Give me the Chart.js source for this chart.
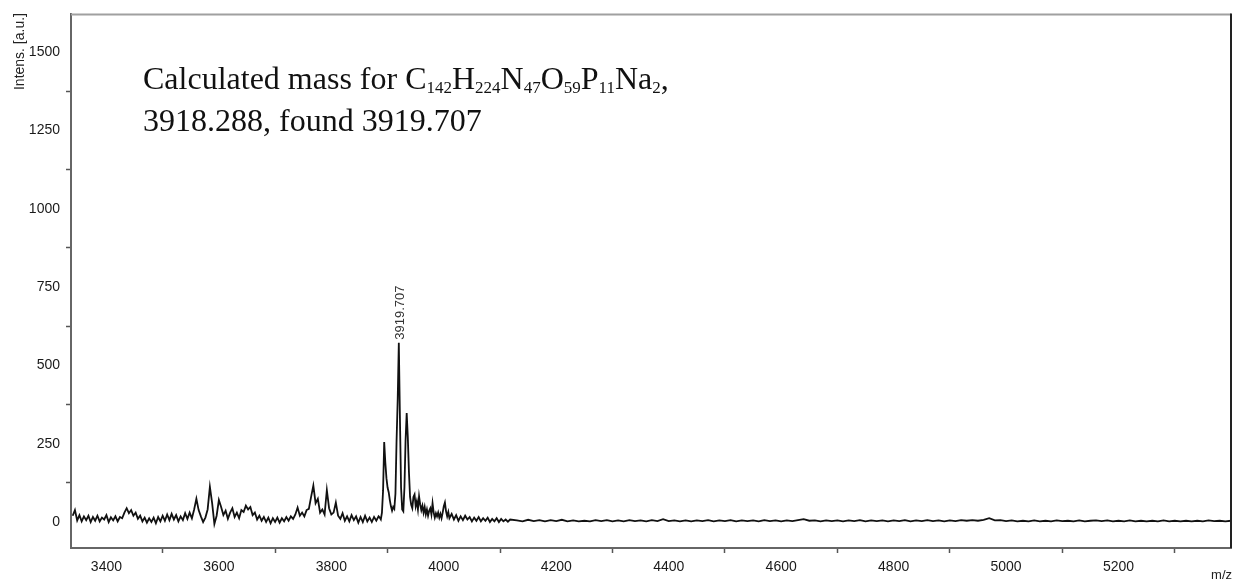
<!DOCTYPE html>
<html>
<head>
<meta charset="utf-8">
<script src="https://cdn.jsdelivr.net/npm/chart.js@4/dist/chart.umd.min.js"></script>
<style>
  html, body { margin: 0; padding: 0; background: #fff; }
  #wrap { width: 1238px; height: 583px; position: relative; }
</style>
</head>
<body>
<div id="wrap"><canvas id="spec"></canvas></div>
<script>
// MALDI spectrum, intensities (a.u.)
// each stretch is sampled on a regular m/z grid: start, step
const lowStart = 3340, lowStep = 4;
const lowIntens = [
  20, 38, 5, 22, 2, 18, 6, 20, 0, 16, 4, 20, 2, 14, 8, 22, 0, 15, 5, 18,
  2, 16, 12, 30, 44, 28, 38, 20, 30, 10, 20, 2, 14, -2, 12, 0, 14, -4, 16, 2,
  20, 4, 24, 6, 26, 8, 22, 2, 18, 6, 28, 10, 30, 12, 40, 74, 38, 18, 0, 14,
  40, 112, 60, -6, 20, 70, 48, 22, 36, 10, 30, 44, 16, 30, 12, 38, 32, 52, 40, 48,
  22, 30, 8, 20, 4, 16, 0, 14, -4, 12, 0, 14, -2, 12, 2, 16, 4, 18, 10, 24,
  46, 20, 30, 18, 38, 42, 80, 116, 60, 74, 30, 40, 24, 102, 44, 24, 30, 62, 20, 10,
  28, 4, 18, 2, 22, 6, 18, -2, 16, 0, 20, 2, 14, 0, 16, 4, 18
];

const peakStart = 3886, peakStep = 2;
const peakIntens = [
  14, 8, 30, 100, 255, 190, 140, 110, 95, 70, 50, 36, 48, 42, 90, 260, 390, 572, 330, 110,
  40, 34, 110, 260, 348, 270, 160, 80, 55, 44, 80, 88, 50, 66, 40, 82, 56, 38, 52, 30,
  48, 24, 40, 20, 36, 44, 24, 60, 30, 14, 28, 18, 30, 14, 26, 12, 30, 50, 62, 34,
  18, 32, 12
];

const tailStart = 4014, tailStep = 4;
const tailIntens = [
  26, 8, 22, 4, 18, 6, 20, 8, 16, 2, 14, 4, 16, 2, 12, 4, 14, 0, 10, 2,
  12, 0, 10, 2, 8, 1, 8
];

const flatStart = 4130, flatStep = 10;
const flatIntens = [
  5, 2, 7, 3, 6, 2, 6, 3, 7, 2, 5, 2, 4, 2, 6, 3, 6, 2, 5, 2,
  6, 3, 5, 2, 6, 3, 9, 3, 5, 2, 5, 2, 5, 3, 6, 2, 5, 3, 6, 2,
  5, 3, 5, 2, 6, 3, 5, 2, 5, 3, 6, 9, 4, 5, 2, 5, 3, 5, 2, 5,
  3, 6, 2, 5, 3, 5, 2, 5, 3, 6, 2, 5, 3, 6, 3, 5, 2, 5, 3, 6,
  4, 6, 4, 7, 12, 5, 6, 3, 5, 2, 4, 2, 5, 2, 4, 2, 5, 3, 4, 2,
  5, 2, 4, 5, 3, 5, 2, 4, 2, 5, 2, 4, 2, 4, 2, 5, 2, 4, 2, 4,
  2, 4, 2, 5, 3, 4, 2, 4
];

const xTickValues = [3400, 3500, 3600, 3700, 3800, 3900, 4000, 4100, 4200, 4300,
  4400, 4500, 4600, 4700, 4800, 4900, 5000, 5100, 5200, 5300];
const yTickValues = [0, 125, 250, 375, 500, 625, 750, 875, 1000, 1125, 1250, 1375, 1500];

const peakMz = 3919.707;
const peakText = '3919.707';

function stretch(start, step, vals) {
  return vals.map((v, i) => ({ x: start + i * step, y: v }));
}

const points = [].concat(
  stretch(lowStart, lowStep, lowIntens),
  stretch(peakStart, peakStep, peakIntens),
  stretch(tailStart, tailStep, tailIntens),
  stretch(flatStart, flatStep, flatIntens)
);

const tickFont = { family: '"Liberation Sans", Arial, sans-serif', size: 14 };

// frame, titles, peak label and the formula note
const notes = {
  id: 'notes',
  afterDraw(chart) {
    const ctx = chart.ctx;
    const { left, right, top, bottom } = chart.chartArea;
    ctx.save();

    ctx.lineWidth = 2;
    ctx.strokeStyle = '#a0a0a0';
    ctx.beginPath(); ctx.moveTo(left, top); ctx.lineTo(right, top); ctx.stroke();
    ctx.strokeStyle = '#222';
    ctx.beginPath(); ctx.moveTo(right, top - 1); ctx.lineTo(right, bottom); ctx.stroke();

    // axis titles
    ctx.fillStyle = '#222';
    ctx.font = '13px "Liberation Sans", Arial, sans-serif';
    ctx.textAlign = 'right';
    ctx.textBaseline = 'alphabetic';
    ctx.fillText('m/z', 1232, 579);
    ctx.save();
    ctx.translate(24, 13);
    ctx.rotate(-Math.PI / 2);
    ctx.textAlign = 'right';
    ctx.font = '14px "Liberation Sans", Arial, sans-serif';
    ctx.fillText('Intens. [a.u.]', 0, 0);
    ctx.restore();

    // peak label, standing on the top of the main peak
    const top1 = Math.max(...peakIntens);
    const px = chart.scales.x.getPixelForValue(peakMz);
    const py = chart.scales.y.getPixelForValue(top1);
    ctx.save();
    ctx.translate(px + 5, py - 3);
    ctx.rotate(-Math.PI / 2);
    ctx.textAlign = 'left';
    ctx.font = '13px "Liberation Sans", Arial, sans-serif';
    ctx.fillStyle = '#333';
    ctx.fillText(peakText, 0, 0);
    ctx.restore();

    // formula note
    const big = '32px "Liberation Serif", "Times New Roman", serif';
    const small = '17px "Liberation Serif", "Times New Roman", serif';
    const parts = [
      ['Calculated mass for C', 0], ['142', 1], ['H', 0], ['224', 1], ['N', 0], ['47', 1],
      ['O', 0], ['59', 1], ['P', 0], ['11', 1], ['Na', 0], ['2', 1], [',', 0]
    ];
    ctx.fillStyle = '#111';
    ctx.textAlign = 'left';
    let x = 143;
    parts.forEach(([t, sub]) => {
      ctx.font = sub ? small : big;
      ctx.fillText(t, x, sub ? 93 : 89);
      x += ctx.measureText(t).width;
    });
    ctx.font = big;
    ctx.fillText('3918.288, found 3919.707', 143, 131);

    ctx.restore();
  }
};

new Chart(document.getElementById('spec'), {
  type: 'line',
  data: {
    datasets: [{
      data: points,
      borderColor: '#111',
      borderWidth: 1.8,
      pointRadius: 0,
      tension: 0,
      fill: false
    }]
  },
  options: {
    responsive: true,
    maintainAspectRatio: false,
    animation: false,
    events: [],
    layout: { padding: { top: 9, right: 7, left: 0, bottom: 0 } },
    plugins: { legend: { display: false }, tooltip: { enabled: false } },
    scales: {
      x: {
        type: 'linear',
        min: 3337,
        max: 5400,
        afterFit: s => { s.height = 35; },
        afterBuildTicks: s => { s.ticks = xTickValues.map(v => ({ value: v })); },
        border: { display: true, color: '#666', width: 2 },
        grid: {
          drawOnChartArea: false,
          drawTicks: true,
          tickLength: 5,
          tickColor: c => (c.tick && c.tick.value % 200 === 0) ? 'rgba(0,0,0,0)' : '#555',
          tickWidth: 1.5
        },
        ticks: {
          font: tickFont,
          color: '#1a1a1a',
          padding: 6,
          autoSkip: false,
          maxRotation: 0,
          callback: v => (v % 200 === 0 ? String(v) : '')
        }
      },
      y: {
        type: 'linear',
        min: -83,
        max: 1620,
        afterFit: s => { s.width = 71; },
        afterBuildTicks: s => { s.ticks = yTickValues.map(v => ({ value: v })); },
        border: { display: true, color: '#666', width: 2 },
        grid: {
          drawOnChartArea: false,
          drawTicks: true,
          tickLength: 5,
          tickColor: c => (c.tick && c.tick.value % 250 === 0) ? 'rgba(0,0,0,0)' : '#555',
          tickWidth: 1.5
        },
        ticks: {
          font: tickFont,
          color: '#1a1a1a',
          padding: 6,
          autoSkip: false,
          callback: v => (v % 250 === 0 ? String(v) : '')
        }
      }
    }
  },
  plugins: [notes]
});
</script>
</body>
</html>
